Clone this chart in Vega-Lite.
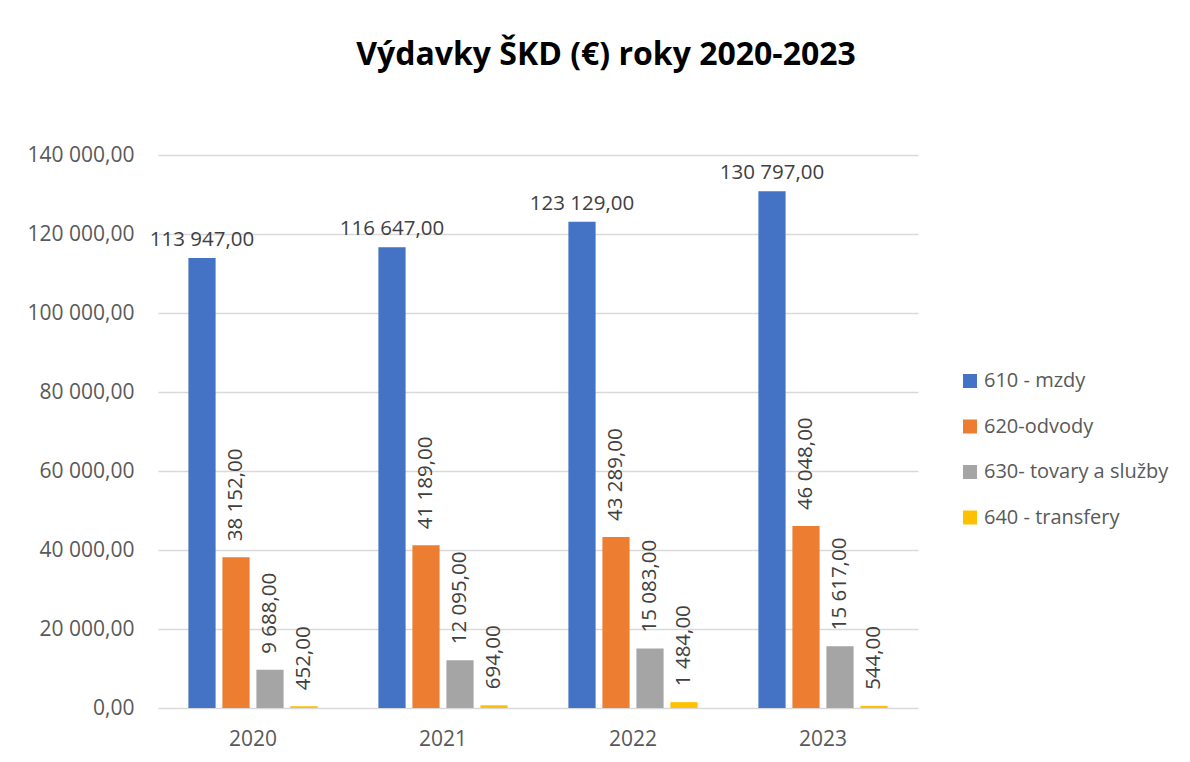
{
  "$schema": "https://vega.github.io/schema/vega-lite/v6.json",
  "autosize": {"type": "none"},
  "width": 760,
  "height": 553,
  "padding": {"left": 158, "top": 155, "right": 272, "bottom": 54},
  "background": "white",
  "config": {
    "locale": {"number": {"decimal": ",", "thousands": " ", "grouping": [3], "currency": ["", " €"]}},
    "font": "Open Sans",
    "view": {"stroke": null}
  },
  "title": {
    "text": "Výdavky ŠKD (€) roky 2020-2023",
    "font": "Open Sans",
    "fontSize": 32,
    "fontWeight": "bold",
    "color": "#000000",
    "anchor": "middle",
    "frame": "group",
    "dx": 68,
    "offset": 72
  },
  "data": {
    "values": [
      {"year": "2020", "series": "610 - mzdy", "value": 113947},
      {"year": "2020", "series": "620-odvody", "value": 38152},
      {"year": "2020", "series": "630- tovary a služby", "value": 9688},
      {"year": "2020", "series": "640 - transfery", "value": 452},
      {"year": "2021", "series": "610 - mzdy", "value": 116647},
      {"year": "2021", "series": "620-odvody", "value": 41189},
      {"year": "2021", "series": "630- tovary a služby", "value": 12095},
      {"year": "2021", "series": "640 - transfery", "value": 694},
      {"year": "2022", "series": "610 - mzdy", "value": 123129},
      {"year": "2022", "series": "620-odvody", "value": 43289},
      {"year": "2022", "series": "630- tovary a služby", "value": 15083},
      {"year": "2022", "series": "640 - transfery", "value": 1484},
      {"year": "2023", "series": "610 - mzdy", "value": 130797},
      {"year": "2023", "series": "620-odvody", "value": 46048},
      {"year": "2023", "series": "630- tovary a služby", "value": 15617},
      {"year": "2023", "series": "640 - transfery", "value": 544}
    ]
  },
  "encoding": {
    "x": {
      "field": "year",
      "type": "nominal",
      "scale": {"paddingInner": 0.32, "paddingOuter": 0.16},
      "axis": {
        "title": null,
        "labelAngle": 0,
        "domain": false,
        "ticks": false,
        "labelPadding": 20,
        "labelFontSize": 21,
        "labelColor": "#595959",
        "labelFont": "Open Sans"
      }
    },
    "xOffset": {
      "field": "series",
      "type": "nominal",
      "scale": {
        "domain": ["610 - mzdy", "620-odvody", "630- tovary a služby", "640 - transfery"],
        "paddingInner": 0.2,
        "paddingOuter": 0
      }
    },
    "y": {
      "field": "value",
      "type": "quantitative",
      "scale": {"domain": [0, 140000], "nice": false},
      "axis": {
        "title": null,
        "values": [0, 20000, 40000, 60000, 80000, 100000, 120000, 140000],
        "format": ",.2f",
        "domain": false,
        "ticks": false,
        "labelPadding": 24,
        "labelFontSize": 21,
        "labelColor": "#595959",
        "labelFont": "Open Sans",
        "gridColor": "#d9d9d9",
        "gridWidth": 1.5
      }
    }
  },
  "layer": [
    {
      "mark": {"type": "bar"},
      "encoding": {
        "color": {
          "field": "series",
          "type": "nominal",
          "scale": {
            "domain": ["610 - mzdy", "620-odvody", "630- tovary a služby", "640 - transfery"],
            "range": ["#4472C4", "#ED7D31", "#A5A5A5", "#FFC000"]
          },
          "legend": {
            "title": null,
            "orient": "none",
            "legendX": 802,
            "legendY": 216,
            "padding": 0,
            "symbolType": "square",
            "symbolSize": 196,
            "symbolStrokeWidth": 0,
            "labelFontSize": 20,
            "labelColor": "#595959",
            "labelFont": "Open Sans",
            "labelOffset": 4,
            "rowPadding": 25.5,
            "labelLimit": 300
          }
        }
      }
    },
    {
      "transform": [{"filter": "datum.series == '610 - mzdy'"}],
      "mark": {"type": "text", "baseline": "bottom", "dy": -8, "fontSize": 20.5, "color": "#404040", "font": "Open Sans"},
      "encoding": {
        "text": {"field": "value", "type": "quantitative", "format": ",.2f"}
      }
    },
    {
      "transform": [{"filter": "datum.series != '610 - mzdy'"}],
      "mark": {"type": "text", "angle": 270, "align": "left", "baseline": "middle", "dx": 16, "fontSize": 20.5, "color": "#404040", "font": "Open Sans"},
      "encoding": {
        "text": {"field": "value", "type": "quantitative", "format": ",.2f"}
      }
    }
  ]
}
